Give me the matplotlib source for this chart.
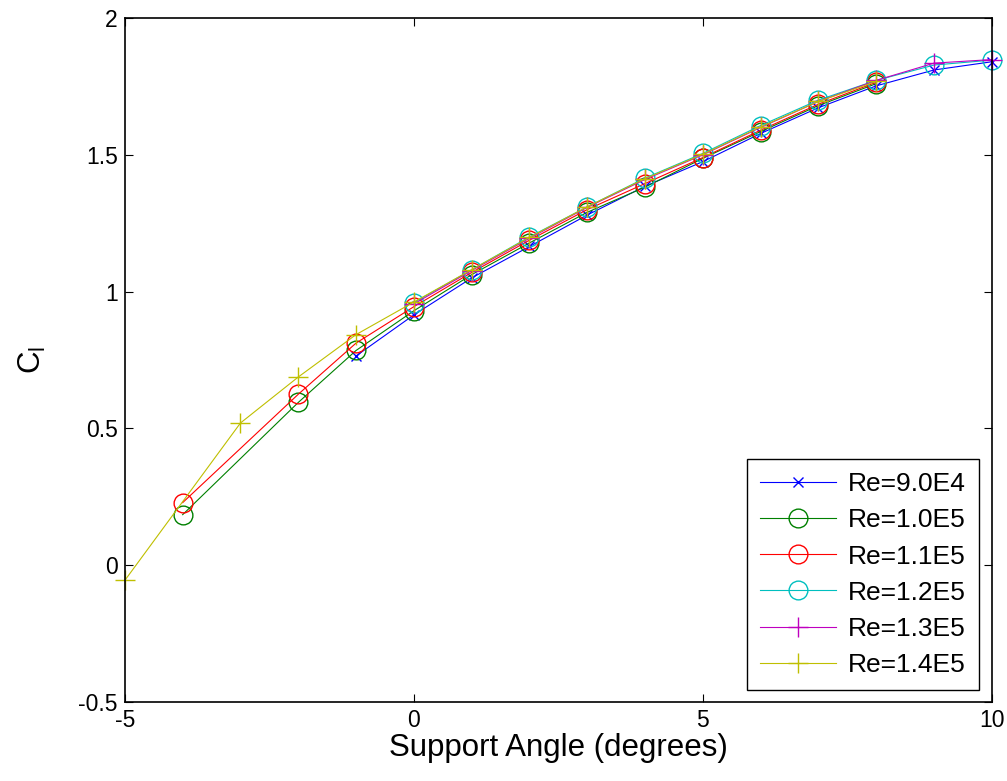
import numpy as np
import matplotlib
matplotlib.use("Agg")
import matplotlib.pyplot as plt

plt.rcParams['font.family'] = ['Liberation Sans', 'DejaVu Sans']
plt.rcParams['axes.unicode_minus'] = False

# 各系列のデータ (Support Angle, C_l)
x_90k = [-1, 0, 1, 2, 3, 4, 5, 6, 7, 8, 9, 10]
cl_90k = [0.765, 0.915, 1.05, 1.165, 1.28, 1.385, 1.475, 1.578, 1.672, 1.752, 1.81, 1.84]

x_100k = [-4, -2, -1, 0, 1, 2, 3, 4, 5, 6, 7, 8]
cl_100k = [0.185, 0.595, 0.785, 0.93, 1.062, 1.178, 1.29, 1.382, 1.487, 1.585, 1.68, 1.76]

x_110k = [-4, -2, -1, 0, 1, 2, 3, 4, 5, 6, 7, 8]
cl_110k = [0.229, 0.625, 0.812, 0.945, 1.07, 1.188, 1.30, 1.395, 1.49, 1.59, 1.685, 1.765]

x_120k = [0, 1, 2, 3, 4, 5, 6, 7, 8, 9, 10]
cl_120k = [0.96, 1.08, 1.2, 1.31, 1.415, 1.505, 1.607, 1.70, 1.772, 1.828, 1.846]

x_130k = [0, 1, 2, 3, 4, 5, 6, 7, 8, 9, 10]
cl_130k = [0.955, 1.077, 1.195, 1.308, 1.41, 1.50, 1.60, 1.695, 1.772, 1.835, 1.848]

x_140k = [-5, -3, -2, -1, 0, 1, 2, 3, 4, 5, 6, 7, 8]
cl_140k = [-0.055, 0.52, 0.688, 0.843, 0.962, 1.08, 1.198, 1.31, 1.413, 1.502, 1.602, 1.695, 1.768]

labels = ["Re=9.0E4", "Re=1.0E5", "Re=1.1E5", "Re=1.2E5", "Re=1.3E5", "Re=1.4E5"]

fig = plt.figure(figsize=(10.07, 7.81), dpi=100)
ax = fig.add_axes([0.124, 0.101, 0.861, 0.876])

lw = 0.8
ax.plot(x_90k, cl_90k, color=(0, 0, 1), marker="x", markersize=7, lw=lw, label=labels[0], clip_on=False)
ax.plot(x_100k, cl_100k, color=(0, 0.5, 0), marker="o", markersize=13.5, mfc="none", lw=lw, label=labels[1], clip_on=False)
ax.plot(x_110k, cl_110k, color=(1, 0, 0), marker="o", markersize=13.5, mfc="none", lw=lw, label=labels[2], clip_on=False)
ax.plot(x_120k, cl_120k, color=(0, 0.75, 0.75), marker="o", markersize=13.5, mfc="none", lw=lw, label=labels[3], clip_on=False)
ax.plot(x_130k, cl_130k, color=(0.75, 0, 0.75), marker="+", markersize=14, lw=lw, label=labels[4], clip_on=False)
ax.plot(x_140k, cl_140k, color=(0.75, 0.75, 0), marker="+", markersize=14, lw=lw, label=labels[5], clip_on=False)

# 軸の範囲と目盛
ax.set_xlim(-5, 10)
ax.set_ylim(-0.5, 2)
ax.set_xticks([-5, 0, 5, 10])
ax.set_yticks([-0.5, 0, 0.5, 1, 1.5, 2])
ax.set_yticklabels(["-0.5", "0", "0.5", "1", "1.5", "2"])
ax.tick_params(direction="in", top=True, right=True, length=6, width=0.8, labelsize=16.5, pad=5)
for s in ax.spines.values():
    s.set_linewidth(1.2)

ax.set_xlabel("Support Angle (degrees)", fontsize=22.5, labelpad=1)
ax.set_ylabel("C$_\\mathregular{l}$", fontsize=22.5, labelpad=22)

leg = ax.legend(loc="lower left", bbox_to_anchor=(0.717, 0.0175), borderaxespad=0,
                fontsize=19, handlelength=2.9, labelspacing=0.46, fancybox=False,
                edgecolor="black", framealpha=1, handletextpad=0.45, borderpad=0.5)
leg.get_frame().set_linewidth(1.0)

fig.savefig("out.png", dpi=100)
